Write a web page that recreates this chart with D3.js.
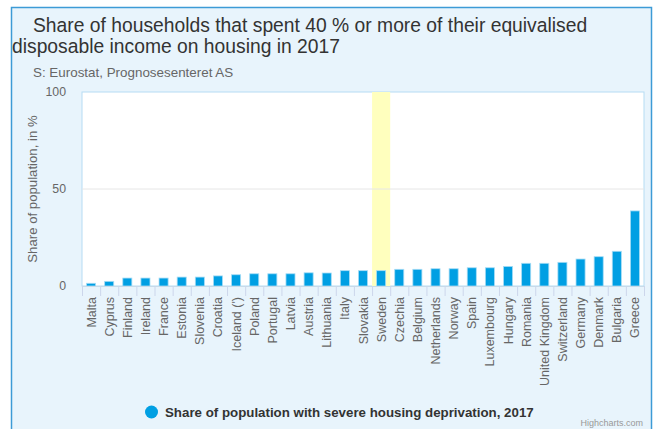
<html>
<head>
<meta charset="utf-8">
<script src="https://d3js.org/d3.v7.min.js"></script>
<style>
  body { margin: 0; background: #fff; font-family: Arial, "Liberation Sans", sans-serif; }
</style>
</head>
<body>
<svg id="chart" width="657" height="429"></svg>
<script>
const countries = ['Malta', 'Cyprus', 'Finland', 'Ireland', 'France', 'Estonia', 'Slovenia', 'Croatia',
  "Iceland (')", 'Poland', 'Portugal', 'Latvia', 'Austria', 'Lithuania', 'Italy', 'Slovakia', 'Sweden',
  'Czechia', 'Belgium', 'Netherlands', 'Norway', 'Spain', 'Luxembourg', 'Hungary', 'Romania',
  'United Kingdom', 'Switzerland', 'Germany', 'Denmark', 'Bulgaria', 'Greece'];
const values = [1.4, 2.4, 4.1, 4.1, 4.1, 4.6, 4.6, 5.2, 5.8, 6.3, 6.3, 6.3, 6.8, 6.7, 7.9, 7.9, 7.9,
  8.6, 8.6, 8.9, 8.9, 9.4, 9.4, 10.1, 11.7, 11.7, 12.2, 13.9, 15.1, 17.9, 38.7];
const yTicks = [0, 50, 100];
const highlighted = 'Sweden';
const seriesName = 'Share of population with severe housing deprivation, 2017';

const svg = d3.select('#chart');
const plot = { left: 82, right: 644, top: 92, bottom: 286 };

// frame
svg.append('rect').attr('x', 11.5).attr('y', 7.5).attr('width', 640).attr('height', 430)
  .attr('fill', '#e8f4fc').attr('stroke', '#3d9bd6').attr('stroke-width', 1.5);

svg.append('text').attr('x', 33).attr('y', 32).attr('font-size', 19.3).attr('fill', '#333')
  .text('Share of households that spent 40 % or more of their equivalised');
svg.append('text').attr('x', 12).attr('y', 53).attr('font-size', 19.3).attr('fill', '#333')
  .text('disposable income on housing in 2017');
svg.append('text').attr('x', 33).attr('y', 77).attr('font-size', 13.4).attr('fill', '#666')
  .text('S: Eurostat, Prognosesenteret AS');

const x = d3.scaleBand().domain(countries).range([plot.left, plot.right]).paddingInner(0.5).paddingOuter(0.25);
const band = d3.scaleBand().domain(countries).range([plot.left, plot.right]);
const y = d3.scaleLinear().domain([0, 100]).range([plot.bottom, plot.top]);

svg.append('rect').attr('x', plot.left).attr('y', plot.top)
  .attr('width', plot.right - plot.left).attr('height', plot.bottom - plot.top)
  .attr('fill', '#fff').attr('stroke', '#b5dcf3').attr('stroke-width', 1);

svg.append('rect').attr('x', band(highlighted)).attr('y', plot.top)
  .attr('width', band.bandwidth()).attr('height', plot.bottom - plot.top)
  .attr('fill', '#ffffbe');

// grid
svg.append('g').selectAll('line').data(yTicks.filter(t => t > 0 && t < 100)).join('line')
  .attr('x1', plot.left).attr('x2', plot.right)
  .attr('y1', d => y(d)).attr('y2', d => y(d))
  .attr('stroke', '#e6e6e6');

const yAxis = svg.append('g').attr('transform', `translate(${plot.left},0)`)
  .call(d3.axisLeft(y).tickValues(yTicks).tickSize(0).tickPadding(16));
yAxis.select('.domain').remove();
yAxis.selectAll('text').attr('font-size', 12.3).attr('fill', '#666')
  .attr('font-family', 'Arial, "Liberation Sans", sans-serif');

svg.append('text').attr('transform', `translate(36.5,189) rotate(-90)`)
  .attr('text-anchor', 'middle').attr('font-size', 13.2).attr('fill', '#666')
  .text('Share of population, in %');

// bars
svg.append('g').selectAll('rect').data(countries).join('rect')
  .attr('x', d => x(d)).attr('width', x.bandwidth())
  .attr('y', (d, i) => y(values[i]))
  .attr('height', (d, i) => y(0) - y(values[i]))
  .attr('fill', '#009fe3').attr('stroke', '#a6dcf5').attr('stroke-width', 0.8);

// x axis
svg.append('line').attr('x1', plot.left).attr('x2', plot.right)
  .attr('y1', plot.bottom + 0.5).attr('y2', plot.bottom + 0.5).attr('stroke', '#c8dbe9');
svg.append('g').selectAll('line').data(countries.concat(['end'])).join('line')
  .attr('x1', (d, i) => plot.left + i * band.step() + 0.5)
  .attr('x2', (d, i) => plot.left + i * band.step() + 0.5)
  .attr('y1', plot.bottom).attr('y2', plot.bottom + 10)
  .attr('stroke', '#ccd6eb');
svg.append('g').selectAll('text').data(countries).join('text')
  .attr('transform', d => `translate(${band(d) + band.bandwidth() / 2 + 4.5},297) rotate(-90)`)
  .attr('text-anchor', 'end').attr('font-size', 12.5).attr('fill', '#666')
  .text(d => d);

// legend
svg.append('circle').attr('cx', 151.5).attr('cy', 412).attr('r', 6.5).attr('fill', '#009fe3');
svg.append('text').attr('x', 165).attr('y', 416.5).attr('font-size', 13.3).attr('font-weight', 'bold')
  .attr('fill', '#333').text(seriesName);
svg.append('text').attr('x', 643).attr('y', 426).attr('text-anchor', 'end')
  .attr('font-size', 9).attr('fill', '#999').text('Highcharts.com');
</script>
</body>
</html>
